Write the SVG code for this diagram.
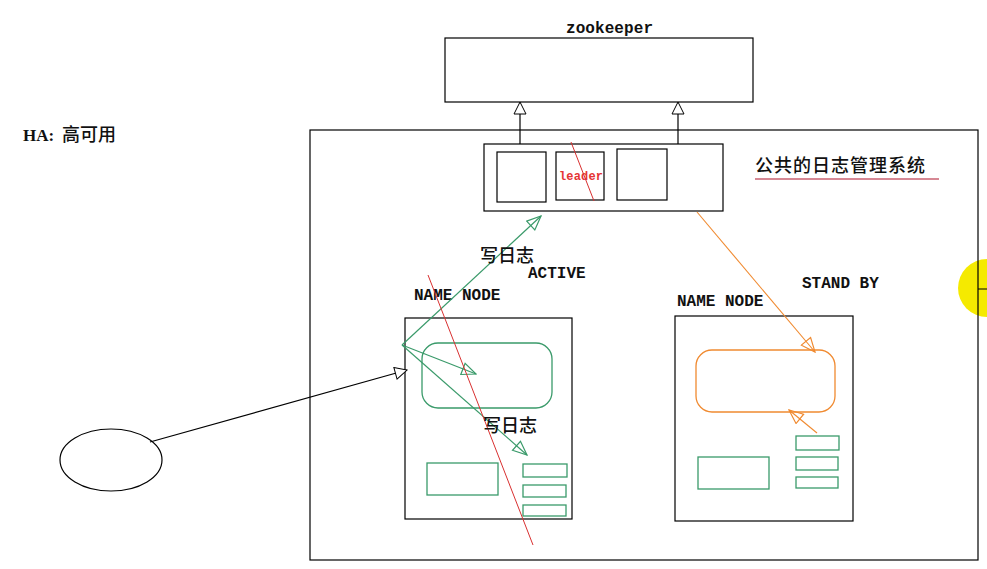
<svg xmlns="http://www.w3.org/2000/svg" width="987" height="569" viewBox="0 0 987 569">
<style>
.bx{fill:#fff;stroke:#000;stroke-width:1.2}
.gr{fill:none;stroke:#3a9a6a;stroke-width:1.3}
.or{fill:none;stroke:#f08a30;stroke-width:1.3}
.mono{font-family:"Liberation Mono","DejaVu Sans Mono",monospace;font-weight:bold;font-size:16px;fill:#111}
.cjk{font-family:"Noto Sans CJK SC","Noto Sans",sans-serif;font-size:18px;font-weight:500;fill:#111}
</style>
<defs>
<marker id="ab" viewBox="0 0 14 14" refX="13" refY="7" markerWidth="14" markerHeight="14" markerUnits="userSpaceOnUse" orient="auto"><path d="M1,1 L13,7 L1,13 Z" fill="#fff" stroke="#000" stroke-width="1"/></marker>
<marker id="ag" viewBox="0 0 16 14" refX="15" refY="7" markerWidth="16" markerHeight="14" markerUnits="userSpaceOnUse" orient="auto"><path d="M1,1 L15,7 L1,13 Z" fill="none" stroke="#3a9a6a" stroke-width="1.2"/></marker>
<marker id="ao" viewBox="0 0 16 14" refX="15" refY="7" markerWidth="16" markerHeight="14" markerUnits="userSpaceOnUse" orient="auto"><path d="M1,1 L15,7 L1,13 Z" fill="none" stroke="#f08a30" stroke-width="1.2"/></marker>
</defs>
<rect width="987" height="569" fill="#fff"/>
<circle cx="987" cy="288" r="29" fill="#f5ea00"/>
<text x="23" y="141" font-family="Liberation Serif,serif" font-weight="bold" font-size="17" fill="#111">HA:</text>
<text x="62" y="141" class="cjk">高可用</text>
<g id="container"><rect x="310" y="130" width="668" height="430" fill="none" stroke="#000" stroke-width="1.2"/></g>
<line x1="978" y1="289" x2="987" y2="289" stroke="#000" stroke-width="1"/>
<g id="zookeeper">
<rect class="bx" x="445" y="38" width="308" height="64"/>
<text x="566" y="33" class="mono" font-size="15" textLength="87">zookeeper</text>
</g>
<g id="logsystem">
<rect class="bx" x="484" y="144" width="239" height="67"/>
<rect class="bx" x="497" y="152" width="49" height="50"/>
<rect class="bx" x="556" y="152" width="48" height="48"/>
<rect class="bx" x="617" y="149" width="50" height="51"/>
<text x="559" y="180" font-family="Liberation Mono,monospace" font-weight="bold" font-size="12" fill="#e53535" textLength="44">leader</text>
<line x1="571" y1="142" x2="594" y2="201" stroke="#d83030" stroke-width="1"/>
</g>
<g id="logtitle">
<text x="755" y="172" class="cjk" textLength="170">公共的日志管理系统</text>
<line x1="755" y1="179" x2="939" y2="179" stroke="#c86070" stroke-width="1.5"/>
</g>
<g id="client"><ellipse cx="111" cy="460" rx="51" ry="31" fill="none" stroke="#000" stroke-width="1.2"/></g>
<g id="nn-active">
<rect class="bx" x="405" y="318" width="167" height="201" fill="none"/>
<rect class="gr" x="422" y="343" width="130" height="65" rx="16"/>
<rect class="gr" x="427" y="463" width="71" height="32"/>
<rect class="gr" x="523" y="464" width="44" height="13"/>
<rect class="gr" x="523" y="485" width="43" height="12"/>
<rect class="gr" x="523" y="505" width="43" height="11"/>
<text x="414" y="300" class="mono">NAME NODE</text>
<text x="528" y="278" class="mono">ACTIVE</text>
</g>
<g id="nn-standby">
<rect class="bx" x="675" y="316" width="178" height="205" fill="none"/>
<rect class="or" x="696" y="350" width="139" height="62" rx="16"/>
<rect class="gr" x="698" y="457" width="71" height="32"/>
<rect class="gr" x="796" y="436" width="43" height="14"/>
<rect class="gr" x="796" y="457" width="42" height="13"/>
<rect class="gr" x="796" y="477" width="42" height="11"/>
<text x="677" y="306" class="mono">NAME NODE</text>
<text x="802" y="288" class="mono">STAND BY</text>
</g>
<g id="connectors">
<line x1="520" y1="144" x2="520" y2="102" stroke="#000" stroke-width="1.2" marker-end="url(#ab)"/>
<line x1="678" y1="144" x2="678" y2="102" stroke="#000" stroke-width="1.2" marker-end="url(#ab)"/>
<line x1="150" y1="442" x2="407" y2="370" stroke="#000" stroke-width="1.2" marker-end="url(#ab)"/>
<line x1="402" y1="345" x2="541" y2="216" stroke="#3a9a6a" stroke-width="1.2" marker-end="url(#ag)"/>
<line x1="402" y1="345" x2="476" y2="374" stroke="#3a9a6a" stroke-width="1.2" marker-end="url(#ag)"/>
<line x1="402" y1="345" x2="527" y2="455" stroke="#3a9a6a" stroke-width="1.2" marker-end="url(#ag)"/>
<line x1="697" y1="212" x2="815" y2="352" stroke="#f08a30" stroke-width="1.1" marker-end="url(#ao)"/>
<line x1="817" y1="433" x2="789" y2="410" stroke="#f08a30" stroke-width="1.1" marker-end="url(#ao)"/>
<line x1="428" y1="275" x2="533" y2="545" stroke="#d83030" stroke-width="1"/>
<text x="480" y="262" class="cjk">写日志</text>
<text x="483" y="432" class="cjk">写日志</text>
</g>
</svg>
